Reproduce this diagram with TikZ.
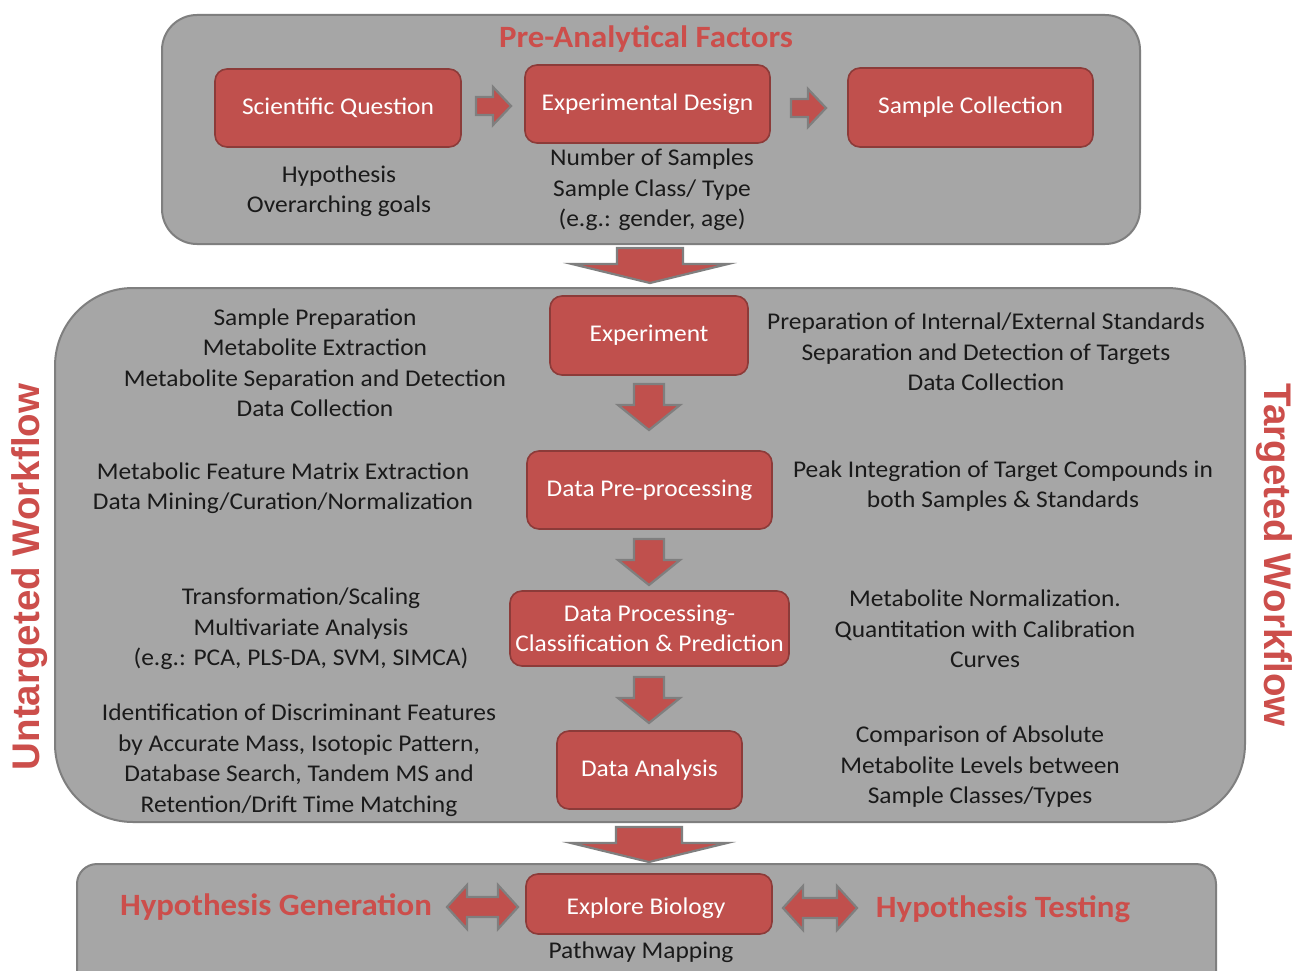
\documentclass[tikz,border=0pt]{standalone}
\usepackage{fontspec}
\setmainfont[FakeStretch=1.06]{Carlito}
\newfontfamily\arialfont{Liberation Sans}
\usetikzlibrary{calc}
\definecolor{boxred}{HTML}{C0504D}
\definecolor{boxedge}{HTML}{8C3B39}
\definecolor{panelgray}{HTML}{A6A6A6}
\definecolor{paneledge}{HTML}{7F7F7F}
\definecolor{titlered}{HTML}{CC4E4B}
\definecolor{bodytext}{HTML}{1A1A1A}
% down block arrow: #1 centre x, #2 top y, #3 shaft half, #4 head half, #5 head start y, #6 tip y
\newcommand\downarrowshape[6]{%
  \draw[blockarrow] (#1-#3,#2) -- (#1+#3,#2) -- (#1+#3,#5) -- (#1+#4,#5) -- (#1,#6) -- (#1-#4,#5) -- (#1-#3,#5) -- cycle;}
% right block arrow: #1 left x, #2 head start x, #3 tip x, #4 centre y, #5 shaft half, #6 head half
\newcommand\rightarrowshape[6]{%
  \draw[blockarrow] (#1,#4-#5) -- (#2,#4-#5) -- (#2,#4-#6) -- (#3,#4) -- (#2,#4+#6) -- (#2,#4+#5) -- (#1,#4+#5) -- cycle;}
% double block arrow: #1 left tip, #2 right tip, #3 centre y, #4 head length, #5 shaft half, #6 head half
\newcommand\doublearrowshape[6]{%
  \draw[blockarrow] (#1,#3) -- (#1+#4,#3-#6) -- (#1+#4,#3-#5) -- (#2-#4,#3-#5) -- (#2-#4,#3-#6) -- (#2,#3) -- (#2-#4,#3+#6) -- (#2-#4,#3+#5) -- (#1+#4,#3+#5) -- (#1+#4,#3+#6) -- cycle;}
\begin{document}
\begin{tikzpicture}[x=1pt,y=-1pt,
  panel/.style={fill=panelgray,draw=paneledge,line width=2},
  redbox/.style={fill=boxred,draw=boxedge,line width=1.6,rounded corners=12,text=white,
    font=\fontsize{24}{30}\selectfont,align=center,inner sep=0pt},
  body/.style={font=\fontsize{24}{30.5}\selectfont,align=center,text=bodytext,inner sep=0pt},
  title/.style={font=\fontsize{31}{34}\selectfont\bfseries,text=titlered,inner sep=0pt},
  sidetitle/.style={font=\arialfont\fontsize{38.5}{44}\selectfont\bfseries,text=titlered,inner sep=0pt},
  blockarrow/.style={fill=boxred,draw=paneledge,line width=2.2,line join=miter}]
\useasboundingbox[fill=white] (0,0) rectangle (1293,971);

% ---------- panels ----------
\draw[panel,rounded corners=35] (162,15) rectangle (1140,244);
\draw[panel,rounded corners=78] (55,288) rectangle (1245,822);
\draw[panel,rounded corners=20] (77,864) rectangle (1216,995);

% ---------- top panel ----------
\node[title] (pre) at (646,39) {Pre-Analytical Factors};
\node[redbox,minimum width=246,minimum height=78] (sq) at (338,108) {Scientific Question};
\node[redbox,minimum width=245,minimum height=78] (ed) at (647.5,104) {Experimental Design};
\node[redbox,minimum width=245,minimum height=79] (sc) at (970.5,107.5) {Sample Collection};
\node[body] (hyp) at (339,191) {Hypothesis\\Overarching goals};
\node[body] (nos) at (652,190) {Number of Samples\\Sample Class/ Type\\(e.g.: gender, age)};
\rightarrowshape{476}{493}{511}{106}{9}{19}
\rightarrowshape{791}{808}{826}{108}{9}{19}

% big arrow between top and middle
\downarrowshape{650}{248}{33}{78}{264}{283}

% ---------- middle panel ----------
\node[redbox,minimum width=198,minimum height=79] (exp) at (649,335.5) {Experiment};
\node[redbox,minimum width=245,minimum height=78] (dpp) at (649.5,490) {Data Pre-processing};
\node[redbox,minimum width=279,minimum height=75] (dpc) at (649.5,628.5) {Data Processing-\\Classification \& Prediction};
\node[redbox,minimum width=185,minimum height=78] (da) at (649.5,770) {Data Analysis};

\downarrowshape{649}{384}{15}{31}{405}{430}
\downarrowshape{649}{539}{15}{31}{560}{585}
\downarrowshape{649}{677}{15}{31}{698}{723}

\node[body] (l1) at (315,363) {Sample Preparation\\Metabolite Extraction\\Metabolite Separation and Detection\\Data Collection};
\node[body] (r1) at (986,352) {Preparation of Internal/External Standards\\Separation and Detection of Targets\\Data Collection};
\node[body] (l2) at (283,488) {Metabolic Feature Matrix Extraction\\Data Mining/Curation/Normalization};
\node[body] (r2) at (1003,486) {Peak Integration of Target Compounds in\\both Samples \& Standards};
\node[body] (l3) at (301,629) {Transformation/Scaling\\Multivariate Analysis\\(e.g.: PCA, PLS-DA, SVM, SIMCA)};
\node[body] (r3) at (985,629) {Metabolite Normalization.\\Quantitation with Calibration\\Curves};
\node[body] (l4) at (299,760) {Identification of Discriminant Features\\by Accurate Mass, Isotopic Pattern,\\Database Search, Tandem MS and\\Retention/Drift Time Matching};
\node[body] (r4) at (980,767) {Comparison of Absolute\\Metabolite Levels between\\Sample Classes/Types};

\node[sidetitle,rotate=90] (untg) at (30,577) {Untargeted Workflow};
\node[sidetitle,rotate=-90] (tg) at (1274,555) {Targeted Workflow};

% big arrow between middle and bottom
\downarrowshape{649}{827}{33}{78}{843}{862}

% ---------- bottom panel ----------
\node[redbox,minimum width=246,minimum height=60] (eb) at (649,904) {};
\node[font=\fontsize{24}{30}\selectfont,text=white,inner sep=0pt] (ebt) at (646,908) {Explore Biology};
\node[body] (pm) at (641,952) {Pathway Mapping};
\node[title] (hg) at (276,907) {Hypothesis Generation};
\node[title] (ht) at (1003,909) {Hypothesis Testing};
\doublearrowshape{447}{518}{907}{20}{10}{22}
\doublearrowshape{783}{857}{908}{20}{10}{22}
\end{tikzpicture}
\end{document}
